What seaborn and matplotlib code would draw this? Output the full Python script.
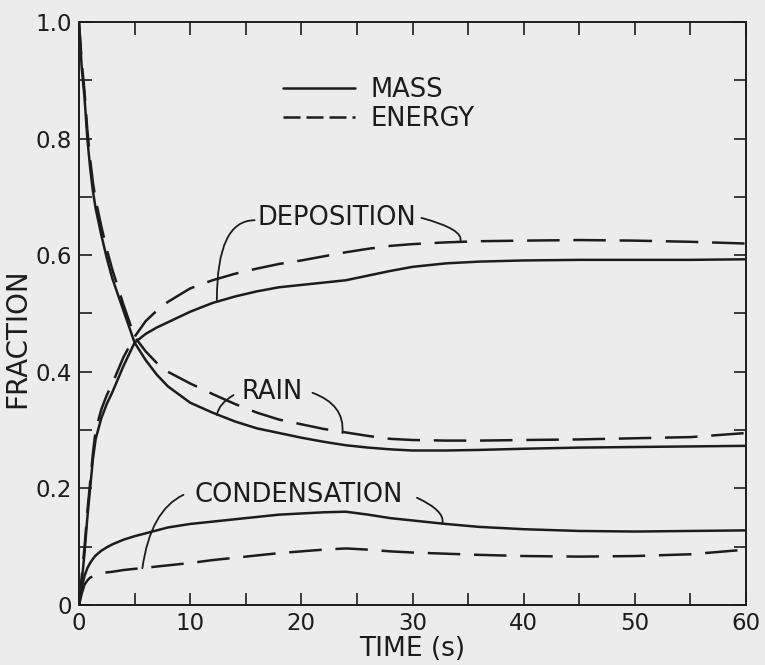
import numpy as np
import pandas as pd
import matplotlib
matplotlib.use("Agg")
import matplotlib.pyplot as plt
from matplotlib.lines import Line2D
import seaborn as sns

# Time grid (s)
time = [0, 0.25, 0.5, 0.75, 1, 1.25, 1.5, 2, 2.5, 3, 4, 5, 6, 7, 8, 10, 12, 14, 16,
        18, 20, 22, 24, 26, 28, 30, 33, 36, 40, 45, 50, 55, 60]

# Fractions of the injected mass / energy ending up in each process
rain_mass = [1.0, 0.92, 0.87, 0.80, 0.75, 0.71, 0.68, 0.635, 0.595, 0.56, 0.505, 0.45,
             0.42, 0.395, 0.375, 0.347, 0.33, 0.315, 0.303, 0.295, 0.287, 0.28, 0.274,
             0.270, 0.267, 0.265, 0.265, 0.266, 0.268, 0.270, 0.271, 0.272, 0.273]
rain_energy = [1.0, 0.93, 0.88, 0.815, 0.765, 0.725, 0.695, 0.65, 0.61, 0.575, 0.515, 0.46,
               0.435, 0.415, 0.40, 0.38, 0.362, 0.345, 0.33, 0.318, 0.31, 0.302, 0.296,
               0.290, 0.285, 0.283, 0.282, 0.282, 0.283, 0.284, 0.286, 0.288, 0.295]
deposition_mass = [0.0, 0.04, 0.09, 0.15, 0.20, 0.25, 0.285, 0.32, 0.345, 0.365, 0.41, 0.45,
                   0.465, 0.476, 0.485, 0.503, 0.518, 0.529, 0.538, 0.545, 0.549, 0.553, 0.557,
                   0.565, 0.573, 0.580, 0.586, 0.589, 0.591, 0.592, 0.592, 0.592, 0.593]
deposition_energy = [0.0, 0.05, 0.10, 0.16, 0.21, 0.26, 0.30, 0.335, 0.36, 0.38, 0.425, 0.46,
                     0.487, 0.505, 0.52, 0.543, 0.557, 0.568, 0.577, 0.585, 0.591, 0.598,
                     0.605, 0.611, 0.616, 0.619, 0.622, 0.624, 0.625, 0.626, 0.625, 0.623, 0.620]
condensation_mass = [0.0, 0.03, 0.05, 0.063, 0.072, 0.079, 0.085, 0.093, 0.099, 0.104, 0.112,
                     0.118, 0.123, 0.128, 0.133, 0.139, 0.143, 0.147, 0.151, 0.155, 0.157,
                     0.159, 0.160, 0.155, 0.149, 0.145, 0.139, 0.134, 0.130, 0.127, 0.126,
                     0.127, 0.128]
condensation_energy = [0.0, 0.02, 0.035, 0.042, 0.047, 0.049, 0.051, 0.054, 0.056, 0.057,
                       0.060, 0.062, 0.064, 0.066, 0.068, 0.072, 0.077, 0.081, 0.085, 0.089,
                       0.092, 0.095, 0.097, 0.095, 0.092, 0.090, 0.088, 0.086, 0.084, 0.083,
                       0.084, 0.087, 0.095]

x_ticks = [0, 10, 20, 30, 40, 50, 60]
x_tick_labels = ["0", "10", "20", "30", "40", "50", "60"]
y_ticks = [0, 0.2, 0.4, 0.6, 0.8, 1.0]
y_tick_labels = ["0", "0.2", "0.4", "0.6", "0.8", "1.0"]

series = {
    ("RAIN", "MASS"): rain_mass,
    ("RAIN", "ENERGY"): rain_energy,
    ("DEPOSITION", "MASS"): deposition_mass,
    ("DEPOSITION", "ENERGY"): deposition_energy,
    ("CONDENSATION", "MASS"): condensation_mass,
    ("CONDENSATION", "ENERGY"): condensation_energy,
}
frames = []
for (process, quantity), values in series.items():
    frames.append(pd.DataFrame({"time": time, "fraction": values,
                                "process": process, "quantity": quantity}))
df = pd.concat(frames, ignore_index=True)

ink = "#1c1c1c"
paper = "#ececec"

sns.set_theme(style="ticks")
plt.rcParams["font.family"] = ["DejaVu Sans"]
plt.rcParams["text.color"] = ink
plt.rcParams["axes.labelcolor"] = ink
plt.rcParams["xtick.color"] = ink
plt.rcParams["ytick.color"] = ink

fig = plt.figure(figsize=(7.65, 6.65), dpi=100, facecolor=paper)
ax = fig.add_axes([79 / 765, 1 - 605 / 665, 667 / 765, 583 / 665])
ax.set_facecolor(paper)

line_w = 1.8
sns.lineplot(data=df, x="time", y="fraction", hue="process", style="quantity",
             estimator=None, sort=False,
             palette={"RAIN": ink, "DEPOSITION": ink, "CONDENSATION": ink},
             dashes={"MASS": "", "ENERGY": (13, 5.5)},
             linewidth=line_w, legend=False, ax=ax)

ax.set_xlim(0, 60)
ax.set_ylim(0, 1.0)
ax.set_xticks(x_ticks, labels=x_tick_labels)
ax.set_yticks(y_ticks, labels=y_tick_labels)
ax.set_xticks(np.arange(5, 60, 10), minor=True)
ax.set_yticks(np.arange(0.1, 1.0, 0.2), minor=True)
for side in ["top", "right", "left", "bottom"]:
    ax.spines[side].set_visible(True)
    ax.spines[side].set_linewidth(1.4)
    ax.spines[side].set_color(ink)
ax.tick_params(which="both", direction="in", top=True, right=True,
               length=9, width=1.2, labelsize=16.5)
ax.tick_params(axis="x", pad=5)
ax.tick_params(axis="y", pad=5)

ax.set_xlabel("TIME (s)", fontsize=19, labelpad=1)
ax.set_ylabel("FRACTION", fontsize=20)
ax.yaxis.set_label_coords(-0.072, 0.458)

# Curve labels with curved leader lines
txt_kw = dict(fontsize=18.5, color=ink, va="center", ha="left")
lead_kw = dict(arrowstyle="-", color=ink, lw=1.3, shrinkA=0, shrinkB=0)

ax.text(16.1, 0.664, "DEPOSITION", **txt_kw)
ax.annotate("", xy=(12.4, 0.523), xytext=(15.8, 0.660),
            arrowprops=dict(connectionstyle="angle3,angleA=0,angleB=90", **lead_kw))
ax.annotate("", xy=(34.3, 0.623), xytext=(30.8, 0.664),
            arrowprops=dict(connectionstyle="angle3,angleA=-15,angleB=70", **lead_kw))

ax.text(14.66, 0.366, "RAIN", **txt_kw)
ax.annotate("", xy=(12.4, 0.326), xytext=(13.9, 0.360),
            arrowprops=dict(connectionstyle="angle3,angleA=30,angleB=80", **lead_kw))
ax.annotate("", xy=(23.7, 0.295), xytext=(21.0, 0.364),
            arrowprops=dict(connectionstyle="angle3,angleA=-20,angleB=85", **lead_kw))

ax.text(10.43, 0.189, "CONDENSATION", **txt_kw)
ax.annotate("", xy=(5.7, 0.063), xytext=(9.4, 0.189),
            arrowprops=dict(connectionstyle="angle3,angleA=25,angleB=82", **lead_kw))
ax.annotate("", xy=(32.7, 0.141), xytext=(30.4, 0.184),
            arrowprops=dict(connectionstyle="angle3,angleA=-25,angleB=80", **lead_kw))

# Line-style key
handles = [Line2D([], [], color=ink, lw=line_w),
           Line2D([], [], color=ink, lw=line_w, dashes=(6.8, 2.4))]
ax.legend(handles, ["MASS", "ENERGY"], loc="upper left",
          bbox_to_anchor=(0.306, 0.905), frameon=False, fontsize=18.5,
          handlelength=2.8, handletextpad=0.62, labelspacing=0.1,
          borderpad=0, borderaxespad=0)

fig.savefig("out.png", dpi=100, facecolor=paper)
